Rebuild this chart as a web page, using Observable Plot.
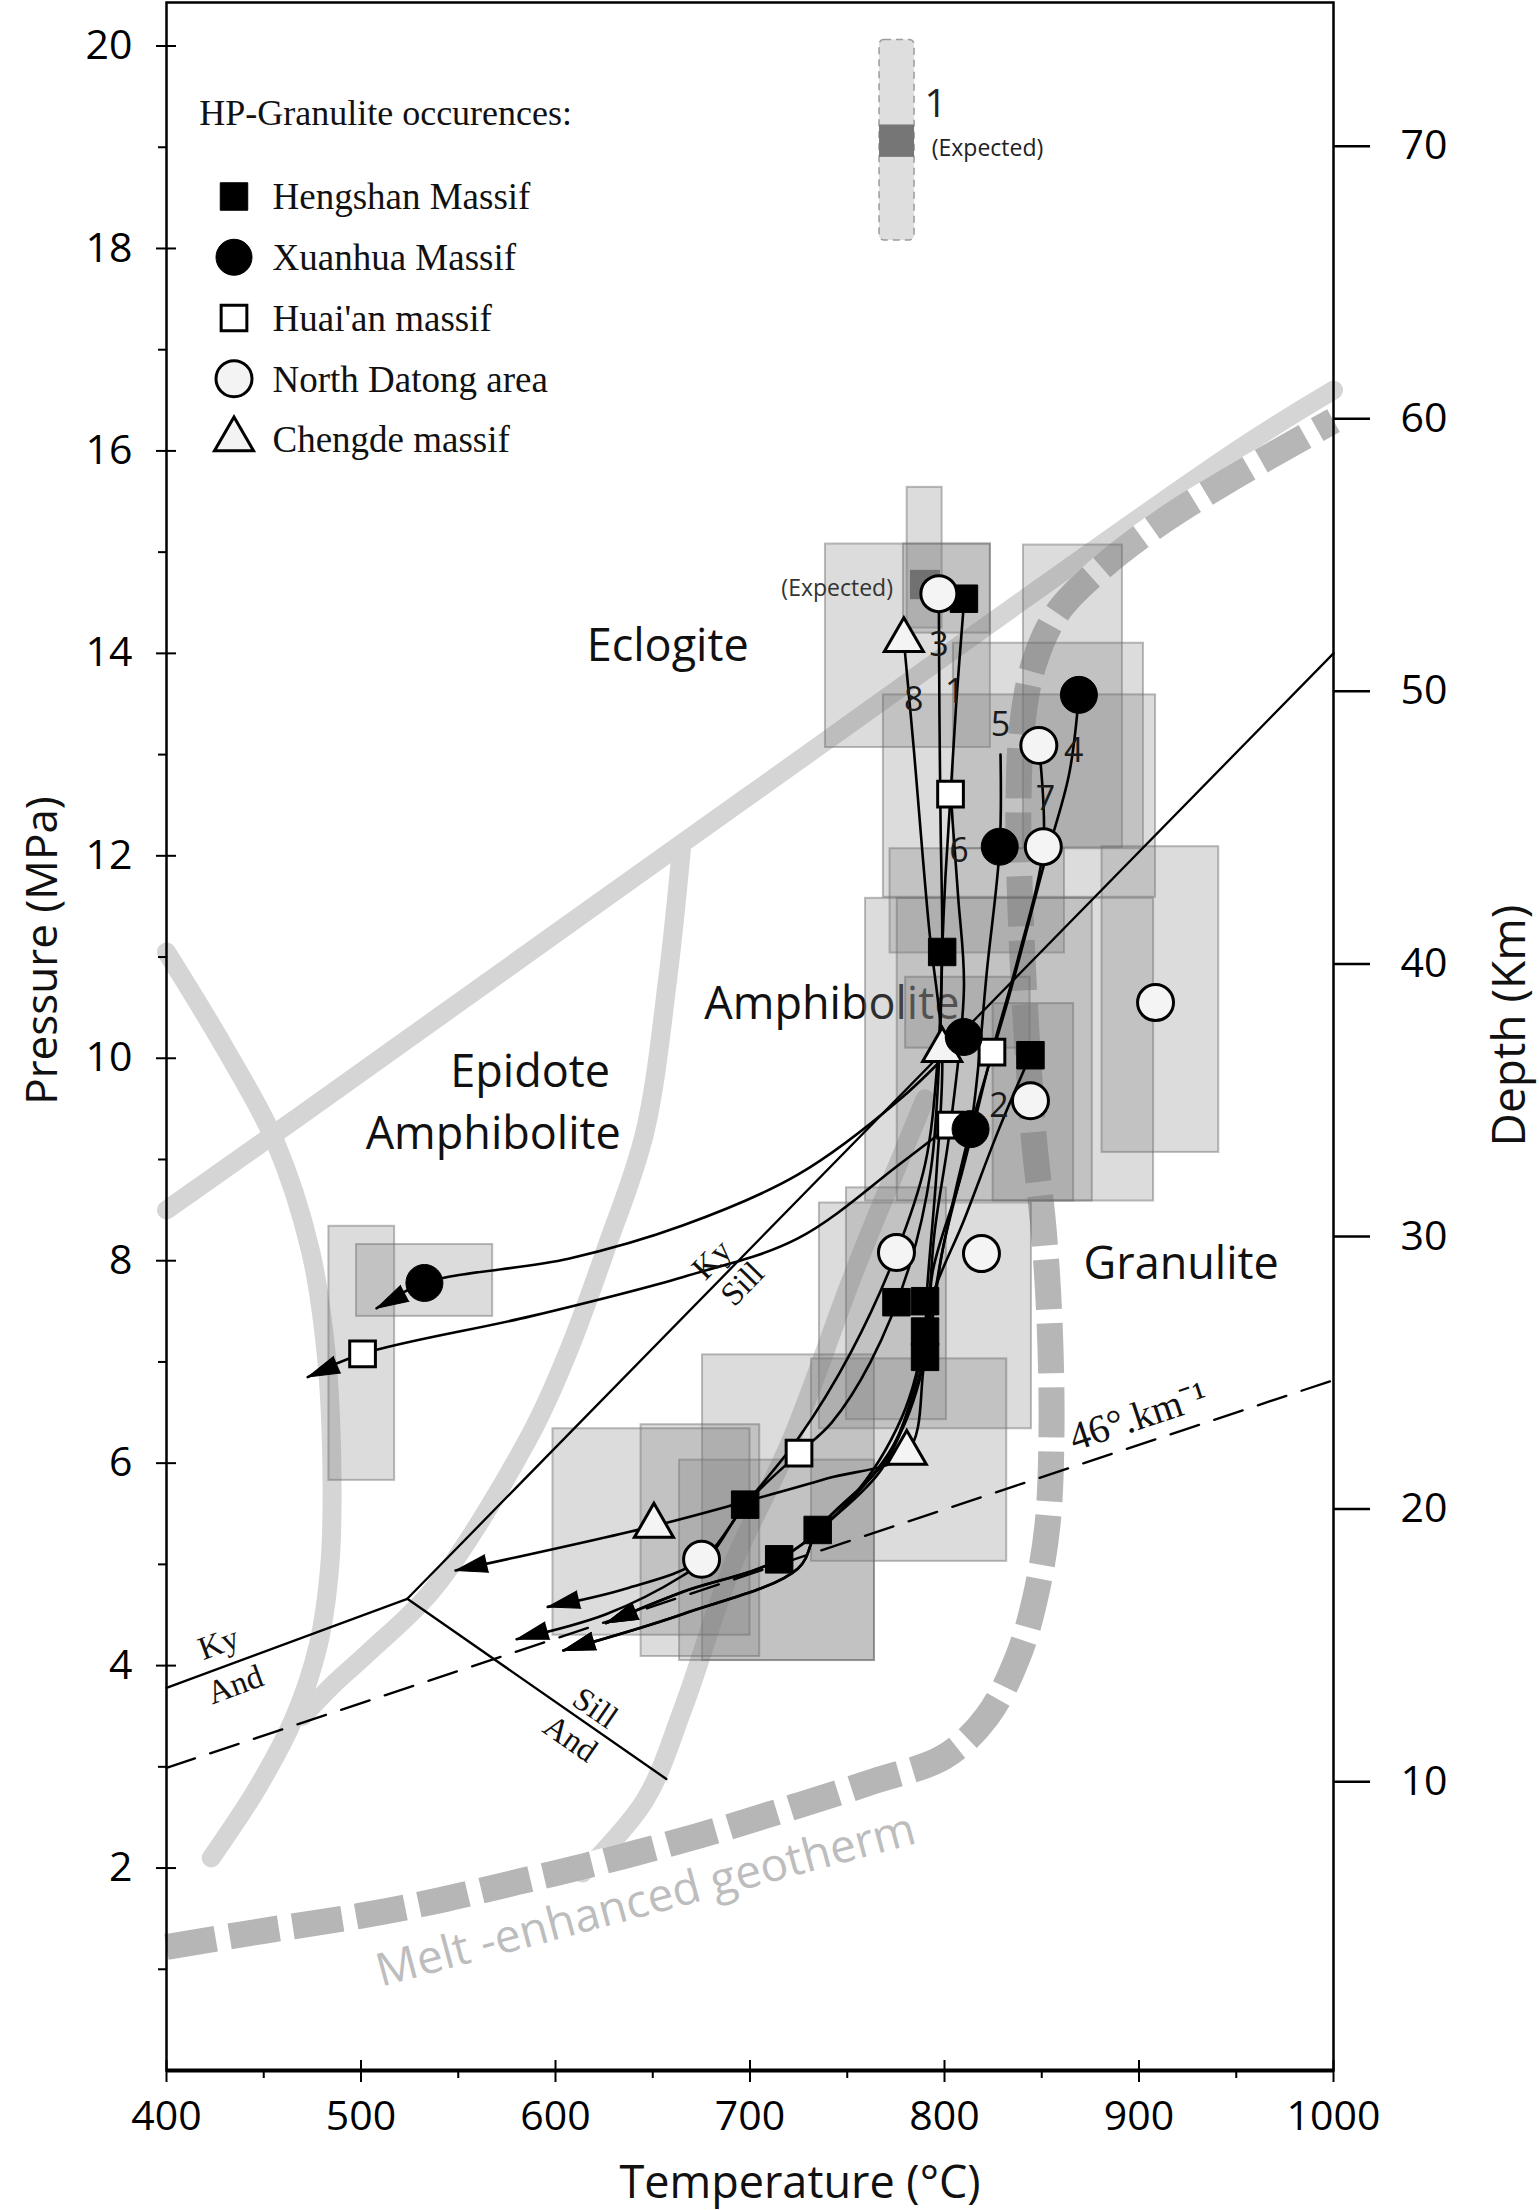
<!DOCTYPE html>
<html><head><meta charset="utf-8">
<script src="https://cdn.jsdelivr.net/npm/d3@7"></script>
<script src="https://cdn.jsdelivr.net/npm/@observablehq/plot@0.6"></script>
<style>body{margin:0;background:#fff}</style>
</head><body><div id="chart"></div>
<script>
// ---------- axes ----------
const tempTicks = [400,500,600,700,800,900,1000];
const tempMinor = [450,550,650,750,850,950];
const pressTicks = [2,4,6,8,10,12,14,16,18,20];
const pressMinor = [1,3,5,7,9,11,13,15,17,19];
const depthTicks = [10,20,30,40,50,60,70];
const depthOffset = 0.16, depthFactor = 0.2693; // pressure = offset + factor*depth

// ---------- facies boundaries (T °C, P) ----------
const eclogiteLine = [[400,8.5],[470,9.45],[700,12.6],[950,16.0],[1000,16.6]];
const epidoteRight = [[665,12.12],[657.6,10.77],[645.8,9.26],[626.2,8.13],[606.7,7.11],[587.1,6.28],[537.8,4.77],[505,4.15],[485,3.8],[470,3.5]];
const epidoteLeft = [[400,11.05],[430,10.1],[456,9.17],[474,8.1],[482,7.1],[485,6.0],[484,5.0],[478,4.2],[466,3.5],[447,2.8],[423,2.1]];
const granuliteCurve = [[614,1.95],[646,2.67],[666,3.6],[691,4.99],[721,6.22],[753,7.86],[775,8.9],[790,9.6]];
const meltGeotherm = [[400,1.22],[450,1.38],[500,1.53],[540,1.68],[580,1.86],[615,2.02],[655,2.22],[688,2.4],[725,2.62],[764,2.86],[800,3.1],[822,3.5],[838,4.1],[847,4.7],[853,5.4],[855,6.3],[854,7.4],[851,8.3],[846,9.2],[842,10.3],[839,11.5],[838,12.5],[840,13.3],[846,13.9],[858,14.4],[878,14.8],[908,15.25],[945,15.7],[1000,16.3]];

// ---------- Al2SiO5 and geotherm lines ----------
const kySill = [[523.8,4.66],[1000,14.0]];
const kyAnd = [[400,3.78],[523.8,4.66]];
const sillAnd = [[523.8,4.66],[657,2.88]];
const gradient46 = [[400,2.99],[1000,6.82]];

// ---------- P-T boxes [Tmin, Tmax, Pmin, Pmax] ----------
const boxes = [
  [780.8,798.8,14.25,15.64],[738.8,823.6,13.07,15.08],[778.9,823.6,14.2,15.08],
  [840.6,891.5,12.08,15.07],[804.6,902.3,12.07,14.1],[768.6,908.5,11.59,13.59],
  [772,861.7,11.04,12.07],[759.4,907.5,8.59,11.58],[775.7,876,8.59,11.58],
  [780,844,10.1,10.8],[825,866.4,8.59,10.54],[881,941,9.07,12.09],
  [735.7,844.7,6.34,8.57],[749.6,801,6.43,8.72],[731.6,832,5.03,7.03],
  [675.6,764,4.05,7.07],[663.8,764,4.05,6.03],[644,705,4.09,6.38],[598.7,700,4.3,6.34],
  [483.5,517.3,5.83,8.34],[497.7,567.7,7.45,8.16]
];
const expectedBox = [[782.5,797.9,14.53,14.82]];

// ---------- P-T paths ----------
const path1 = [[810,14.5],[806,13.5],[803.1,12.6],[800.5,11.8],[798.8,11.05],[797.5,10.1],[793,8.9],[782,7.95],[762,7.0],[742,6.4],[725.2,6.1],[697.5,5.59],[680,5.1],[665.6,4.89],[626.3,4.51],[580,4.26]];
const path2 = [[844.2,10.03],[828,9.3],[810,8.4],[793,7.6],[789,7.0],[768,5.95],[734.8,5.34]];
const path3 = [[797.1,14.59],[797.4,13.4],[798,12.3],[798.8,11.05],[796.5,10.0],[790,8.95],[775.3,8.08],[752,7.1],[725,6.25],[697.5,5.59],[675.1,5.05],[636,4.76],[596,4.58]];
const path4 = [[869.1,13.59],[864,12.8],[851,11.9],[833,10.6],[813.4,9.3],[800,8.2],[791,7.3],[772,6.1],[734.8,5.34],[724.7,4.96],[665.6,4.51],[604,4.15]];
const path5 = [[828.8,13.0],[828.4,12.09],[822,10.9],[813.4,9.3],[799,8.1],[790,7.05],[770,6.05],[734.8,5.34],[724.7,4.96],[665.6,4.51],[604,4.15]];
const path6 = [[803.1,12.61],[807,11.6],[810,10.7],[803.1,9.34],[795,8.3],[790,7.3],[778,6.45],[752,5.65],[715,5.05],[665.6,4.73],[626,4.42]];
const path7 = [[848.5,13.09],[850.8,12.09],[838,11.0],[824.4,10.06],[808,8.8],[794,7.9],[790,7.05],[776,6.25],[750,5.6],[715,5.05],[665.6,4.73],[626,4.42]];
const path8 = [[779.1,14.13],[784,13.1],[792,11.3],[798.8,10.08],[796,8.9],[791,7.7],[789,6.9],[780.6,6.1],[740,5.85],[697.5,5.62],[650.6,5.38],[548.6,4.94]];
const xuanhuaLong = [[809.9,10.21],[777.4,9.6],[724.6,8.85],[665.7,8.35],[606.7,8.02],[532.6,7.78],[508,7.53]];
const huaianLong = [[803.1,9.34],[777.4,8.96],[724.6,8.22],[665.7,7.84],[587,7.45],[500.8,7.08],[472.6,6.85]];

// ---------- samples ----------
const hengshan = [[810,14.54],[798.8,11.05],[844.2,10.03],[775.3,7.59],[790,7.6],[790,7.3],[790,7.05],[697.5,5.59],[734.8,5.34],[715,5.05]];
const xuanhua = [[869.1,13.59],[828.4,12.09],[809.9,10.21],[813.4,9.3],[532.6,7.78]];
const huaian = [[803.1,12.61],[824.4,10.06],[803.1,9.34],[725.2,6.1],[500.8,7.08]];
const datong = [[797.1,14.59],[848.5,13.09],[850.8,12.09],[908.5,10.55],[844.2,9.58],[775.3,8.08],[819,8.07],[675.1,5.05]];
const chengde = [[779.1,14.13],[798.8,10.08],[780.6,6.1],[650.6,5.38]];

// ---------- labels ----------
const faciesLabels = [
  {T:657.7,P:14.07,text:"Eclogite"},
  {T:742.1,P:10.53,text:"Amphibolite"},
  {T:587,P:9.86,text:"Epidote"},
  {T:568,P:9.25,text:"Amphibolite"},
  {T:921.7,P:7.96,text:"Granulite"}
];
const mineralLabels = [
  {T:680.4,P:8.01,text:"Ky",rot:-45.6},
  {T:696.1,P:7.77,text:"Sill",rot:-45.6},
  {T:426.8,P:4.22,text:"Ky",rot:-20.3},
  {T:435.3,P:3.81,text:"And",rot:-20.3},
  {T:620.4,P:3.58,text:"Sill",rot:34.8},
  {T:607.6,P:3.28,text:"And",rot:34.8}
];
const gradientLabel = [{T:899.6,P:6.46,text:"46°.km⁻¹",rot:-18.4}];
const geothermLabel = [{T:646.4,P:1.68,text:"Melt -enhanced geotherm",rot:-15}];
const pathNumbers = [
  {T:797.1,P:14.08,text:"3"},{T:805.2,P:13.62,text:"1"},{T:784.2,P:13.54,text:"8"},
  {T:828.8,P:13.29,text:"5"},{T:866.5,P:13.03,text:"4"},{T:851.9,P:12.56,text:"7"},
  {T:807.4,P:12.05,text:"6"},{T:828,P:9.53,text:"2"}
];
const expectedLabel = [{T:744.8,P:14.64,text:"(Expected)"}];

// ---------- legends ----------
const legendTitle = "HP-Granulite occurences:";
const legendItems = [
  {label:"Hengshan Massif", symbol:"square", fill:"black"},
  {label:"Xuanhua Massif", symbol:"circle", fill:"black"},
  {label:"Huai'an massif", symbol:"square", fill:"white"},
  {label:"North Datong area", symbol:"circle", fill:"#f3f3f3"},
  {label:"Chengde massif", symbol:"triangle", fill:"#f3f3f3"}
];
const rangeLegendBar = [{T1:766.6,T2:784.6,P1:18.08,P2:20.06}];
const rangeLegendExpected = [{T1:766.6,T2:784.6,P1:18.9,P2:19.22}];
const rangeLegendText = [{T:795.4,P:19.42,text:"1",size:39},{T:822.1,P:18.99,text:"(Expected)",size:23}];

// ================= build =================
const W = 1539, H = 2210, ML = 166, MR = 206, MT = 2, MB = 140;
const xDom = [400,1000], yDom = [0,20.43];
const innerW = W - ML - MR, innerH = H - MT - MB;
const sx = d3.scaleLinear(xDom, [ML, W - MR]);
const sy = d3.scaleLinear(yDom, [H - MB, MT]);

const rows = (arr, id) => arr.map(([T,P]) => ({T, P, id}));
const flat = (list) => list.flatMap((a, i) => rows(a, i));
const boxRows = boxes.map(([a,b,c,d]) => ({x1:a,x2:b,y1:c,y2:d}));
const expRows = expectedBox.map(([a,b,c,d]) => ({x1:a,x2:b,y1:c,y2:d}));

const arrowPaths = [path1, path3, path4, path5, path6, path7, path8, xuanhuaLong, huaianLong];
const allPaths = [...arrowPaths, path2];
const arrowHeads = arrowPaths.map(p => {
  const a = p[p.length - 2], b = p[p.length - 1];
  const dx = sx(b[0]) - sx(a[0]), dy = sy(b[1]) - sy(a[1]);
  return {T: b[0], P: b[1], rot: Math.atan2(dx, -dy) * 180 / Math.PI};
});

let arrowMark;
try {
  arrowMark = Plot.vector(arrowHeads, {x:"T", y:"P", rotate:"rot", length:32, r:9, shape:"spike", anchor:"end", fill:"black", stroke:"black", strokeWidth:1});
} catch (e) {
  arrowMark = Plot.vector(arrowHeads, {x:"T", y:"P", rotate:"rot", length:26, anchor:"end", stroke:"black", strokeWidth:3});
}

const serif = "'Liberation Serif', 'Times New Roman', serif";
const sans = "'Open Sans', sans-serif";
const intFmt = d => String(d);

const legendMarks = [];
legendItems.forEach((it, i) => {
  const dyc = 194 + i * 60.75;
  const r = it.symbol === "square" ? (it.fill === "black" ? 15.5 : 14.5) : it.symbol === "circle" ? 18 : 14.5;
  legendMarks.push(Plot.dot([it], {frameAnchor:"top-left", dx:67.5, dy:dyc, symbol:it.symbol, r, fill:it.fill, stroke:"black", strokeWidth: it.fill === "black" ? 1 : 3}));
  legendMarks.push(Plot.text([it], {frameAnchor:"top-left", dx:106, dy:dyc + 1, text:"label", textAnchor:"start", lineAnchor:"middle", fontFamily:serif, fontSize:37, fill:"#111"}));
});

const chart = Plot.plot({
  width: W, height: H,
  marginLeft: ML, marginRight: MR, marginTop: MT, marginBottom: MB,
  x: {domain: xDom}, y: {domain: yDom},
  style: {fontFamily: sans, background: "white", color: "black", overflow: "visible"},
  marks: [
    // facies boundaries
    Plot.line(flat([eclogiteLine, epidoteRight, epidoteLeft, granuliteCurve]), {x:"T", y:"P", z:"id", curve:"catmull-rom", stroke:"#d5d5d5", strokeWidth:19, strokeLinecap:"round"}),
    Plot.line(meltGeotherm, {x: d=>d[0], y: d=>d[1], curve:"catmull-rom", stroke:"white", strokeWidth:26}),
    Plot.line(meltGeotherm, {x: d=>d[0], y: d=>d[1], curve:"catmull-rom", stroke:"#b6b6b6", strokeWidth:26, strokeDasharray:"50,14", strokeLinecap:"butt"}),
    Plot.text(faciesLabels, {x:"T", y:"P", text:"text", fontSize:45, fill:"#111", fontFamily:sans}),
    // P-T boxes
    Plot.rect(boxRows, {x1:"x1", x2:"x2", y1:"y1", y2:"y2", fill:"#7c7c7c", fillOpacity:0.27, stroke:"#6a6a6a", strokeOpacity:0.45, strokeWidth:2}),
    Plot.rect(expRows, {x1:"x1", x2:"x2", y1:"y1", y2:"y2", fill:"#6a6a6a", fillOpacity:0.9}),
    // phase boundaries
    Plot.line(flat([kySill, kyAnd, sillAnd]), {x:"T", y:"P", z:"id", stroke:"black", strokeWidth:2.3}),
    Plot.line(gradient46, {x: d=>d[0], y: d=>d[1], stroke:"black", strokeWidth:2.3, strokeDasharray:"30,16"}),
    // P-T paths
    Plot.line(flat(allPaths), {x:"T", y:"P", z:"id", curve:"catmull-rom", stroke:"black", strokeWidth:2.6, strokeLinejoin:"round"}),
    arrowMark,
    // samples
    Plot.dot(chengde, {x: d=>d[0], y: d=>d[1], symbol:"triangle", r:14.5, fill:"#f4f4f4", stroke:"black", strokeWidth:3}),
    Plot.dot(hengshan, {x: d=>d[0], y: d=>d[1], symbol:"square", r:15.5, fill:"black", stroke:"black", strokeWidth:1}),
    Plot.dot(huaian, {x: d=>d[0], y: d=>d[1], symbol:"square", r:14.5, fill:"white", stroke:"black", strokeWidth:3}),
    Plot.dot(datong, {x: d=>d[0], y: d=>d[1], symbol:"circle", r:18, fill:"#f4f4f4", stroke:"black", strokeWidth:3}),
    Plot.dot(xuanhua, {x: d=>d[0], y: d=>d[1], symbol:"circle", r:18.5, fill:"black", stroke:"black", strokeWidth:1}),
    // labels
    Plot.text(pathNumbers, {x:"T", y:"P", text:"text", fontSize:34, fill:"#1a1a1a", fontFamily:sans}),
    Plot.text(expectedLabel, {x:"T", y:"P", text:"text", fontSize:23, fill:"#333", fontFamily:sans}),
    Plot.text(mineralLabels, {x:"T", y:"P", text:"text", rotate:"rot", fontSize:33, fill:"#111", fontFamily:serif}),
    Plot.text(gradientLabel, {x:"T", y:"P", text:"text", rotate:"rot", fontSize:40, fill:"#111", fontFamily:serif}),
    Plot.text(geothermLabel, {x:"T", y:"P", text:"text", rotate:"rot", fontSize:46, fill:"#bdbdbd", fontFamily:sans}),
    // range legend
    Plot.rect(rangeLegendBar, {x1:"T1", x2:"T2", y1:"P1", y2:"P2", fill:"#dedede", stroke:"#9c9c9c", strokeDasharray:"7,5", strokeWidth:1.5, rx:5}),
    Plot.rect(rangeLegendExpected, {x1:"T1", x2:"T2", y1:"P1", y2:"P2", fill:"#767676"}),
    Plot.text(rangeLegendText, {x:"T", y:"P", text:"text", fontSize:d=>d.size, fill:"#222", fontFamily:sans}),
    // symbol legend
    Plot.text([legendTitle], {frameAnchor:"top-left", dx:32.7, dy:110.5, textAnchor:"start", lineAnchor:"middle", fontFamily:serif, fontSize:36, fill:"#111"}),
    ...legendMarks,
    // axes
    Plot.axisX(tempTicks, {anchor:"bottom", tickSize:12, tickPadding:18, fontSize:41, label:null, strokeWidth:2, tickFormat:intFmt}),
    Plot.axisX(tempMinor, {anchor:"bottom", tickSize:8, tickFormat:()=>"", label:null, strokeWidth:2}),
    Plot.ruleX(tempTicks, {insetTop: innerH - 10, stroke:"black", strokeWidth:2}),
    Plot.axisY(pressTicks, {anchor:"left", tickSize:10, tickPadding:24, fontSize:41, label:null, strokeWidth:2, tickFormat:intFmt}),
    Plot.axisY(pressMinor, {anchor:"left", tickSize:8, tickFormat:()=>"", label:null, strokeWidth:2}),
    Plot.ruleY(pressTicks, {insetRight: innerW - 10, stroke:"black", strokeWidth:2}),
    Plot.axisY(depthTicks.map(d => depthOffset + depthFactor * d), {anchor:"right", tickSize:36, tickPadding:31, fontSize:41, label:null, strokeWidth:2.5,
      tickFormat: p => String(Math.round((p - depthOffset) / depthFactor))}),
    Plot.frame({stroke:"black", strokeWidth:2.5}),
    Plot.ruleY([0], {stroke:"black", strokeWidth:4}),
    Plot.text(["Temperature (°C)"], {frameAnchor:"bottom", dx:50, dy:113, textAnchor:"middle", lineAnchor:"middle", fontSize:45, fill:"#111"}),
    Plot.text(["Pressure (MPa)"], {frameAnchor:"left", dx:-124, dy:-86, rotate:-90, textAnchor:"middle", lineAnchor:"middle", fontSize:44, fill:"#111"}),
    Plot.text(["Depth (Km)"], {frameAnchor:"right", dx:177, dy:-11, rotate:-90, textAnchor:"middle", lineAnchor:"middle", fontSize:46, fill:"#111"})
  ]
});
document.getElementById("chart").append(chart);
</script></body></html>
